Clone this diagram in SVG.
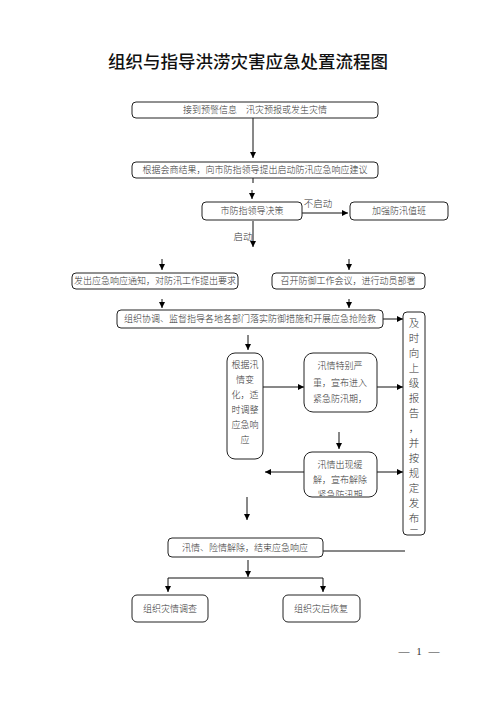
<svg xmlns="http://www.w3.org/2000/svg" width="496" height="702" viewBox="0 0 496 702">
<defs>
<marker id="ah" viewBox="0 0 8 8" refX="8" refY="4" markerWidth="6" markerHeight="6" orient="auto" markerUnits="userSpaceOnUse">
<path d="M0,0 L8,4 L0,8 z" fill="#000"/>
</marker>
<clipPath id="c9"><rect x="304" y="453" width="73" height="43" rx="8"/></clipPath>
<clipPath id="ct"><rect x="404" y="313" width="20" height="221" rx="4"/></clipPath>
</defs>
<style>
.b{fill:#fff;stroke:#222;stroke-width:1}
.t{font-family:"Noto Sans CJK SC","Noto Sans",sans-serif;font-size:9px;font-weight:300;fill:#333;text-anchor:middle}
.v{font-family:"Noto Sans CJK SC","Noto Sans",sans-serif;font-size:10.5px;font-weight:300;fill:#333;text-anchor:middle}
.l{stroke:#111;stroke-width:1;fill:none}
.a{stroke:#111;stroke-width:1;fill:none;marker-end:url(#ah)}
.p{font-family:"Liberation Serif",serif;font-size:11px;fill:#333;text-anchor:middle}
</style>
<rect width="496" height="702" fill="#fff"/>
<text x="248" y="68" style="font-family:'Noto Sans CJK SC',sans-serif;font-size:17.5px;font-weight:500;fill:#111;text-anchor:middle">组织与指导洪涝灾害应急处置流程图</text>

<g id="connectors">
<path class="a" d="M253,118 V158"/>
<path class="l" d="M253,178 V183"/>
<path class="a" d="M252,190 V199"/>
<path class="a" d="M302,213 H348"/>
<path class="a" d="M253,221 V247"/>
<path class="a" d="M162,259 V270"/>
<path class="a" d="M349,259 V270"/>
<path class="a" d="M162,299 V308"/>
<path class="a" d="M349,299 V308"/>
<path class="a" d="M383,319 H403"/>
<path class="a" d="M248,335 V350"/>
<path class="a" d="M263,387 H304"/>
<path class="a" d="M377,387 H403"/>
<path class="a" d="M339,432 V449"/>
<path class="a" d="M304,472 H265"/>
<path class="a" d="M377,472 H403"/>
<path class="a" d="M247,497 V520"/>
<path class="l" d="M323,551 H405"/>
<path class="a" d="M248,560 V577"/>
<path class="l" d="M168,578 H323"/>
<path class="a" d="M168,578 V592"/>
<path class="a" d="M323,578 V592"/>
</g>

<g id="n1"><rect class="b" x="132" y="102" width="246" height="16" rx="4"/><text class="t" x="255" y="113">接到预警信息　汛灾预报或发生灾情</text></g>
<g id="n2"><rect class="b" x="132" y="162" width="246" height="16" rx="4"/><text class="t" x="255" y="173">根据会商结果，向市防指领导提出启动防汛应急响应建议</text></g>
<g id="n3"><rect class="b" x="202" y="202" width="100" height="18" rx="4"/><text class="t" x="252" y="214">市防指领导决策</text></g>
<text class="t" x="318" y="207" style="font-size:9.5px">不启动</text>
<text class="t" x="243" y="240" style="font-size:9.5px">启动</text>
<g id="n4"><rect class="b" x="350" y="202" width="98" height="18" rx="4"/><text class="t" x="399" y="214">加强防汛值班</text></g>
<g id="n5"><rect class="b" x="72" y="273" width="166" height="16" rx="4"/><text class="t" x="155" y="284">发出应急响应通知，对防汛工作提出要求</text></g>
<g id="n6"><rect class="b" x="272" y="273" width="153" height="16" rx="4"/><text class="t" x="348" y="284">召开防御工作会议，进行动员部署</text></g>
<g id="n7"><rect class="b" x="117" y="310" width="266" height="18" rx="4"/><text class="t" x="250" y="322">组织协调、监督指导各地各部门落实防御措施和开展应急抢险救</text></g>
<g id="n8"><rect class="b" x="403" y="312" width="22" height="223" rx="4"/>
<g clip-path="url(#ct)">
<text class="v" x="414" y="327">及</text><text class="v" x="414" y="342">时</text><text class="v" x="414" y="357">向</text><text class="v" x="414" y="372">上</text><text class="v" x="414" y="387">级</text><text class="v" x="414" y="402">报</text><text class="v" x="414" y="417">告</text><text class="v" x="414" y="432">，</text><text class="v" x="414" y="447">并</text><text class="v" x="414" y="462">按</text><text class="v" x="414" y="477">规</text><text class="v" x="414" y="492">定</text><text class="v" x="414" y="507">发</text><text class="v" x="414" y="522">布</text><text class="v" x="414" y="537">二</text>
</g></g>
<g id="n9"><rect class="b" x="227" y="353" width="36" height="106" rx="8"/>
<text class="t" x="245" y="368">根据汛</text><text class="t" x="245" y="383">情变</text><text class="t" x="245" y="398">化，适</text><text class="t" x="245" y="413">时调整</text><text class="t" x="245" y="428">应急响</text><text class="t" x="245" y="443">应</text></g>
<g id="n10"><rect class="b" x="304" y="353" width="73" height="59" rx="9"/>
<text class="t" x="340" y="369">汛情特别严</text><text class="t" x="340" y="386">重，宣布进入</text><text class="t" x="340" y="402">紧急防汛期，</text></g>
<g id="n11"><rect class="b" x="304" y="452" width="73" height="45" rx="8"/>
<g clip-path="url(#c9)"><text class="t" x="340" y="468">汛情出现缓</text><text class="t" x="340" y="483">解，宣布解除</text><text class="t" x="340" y="498">紧急防汛期</text></g></g>
<g id="n12"><rect class="b" x="168" y="538" width="155" height="19" rx="4"/><text class="t" x="245" y="551">汛情、险情解除，结束应急响应</text></g>
<g id="n13"><rect class="b" x="132" y="595" width="76" height="27" rx="5"/><text class="t" x="170" y="612">组织灾情调查</text></g>
<g id="n14"><rect class="b" x="283" y="595" width="77" height="27" rx="5"/><text class="t" x="321" y="612">组织灾后恢复</text></g>
<text class="p" x="404" y="655">—</text><text class="p" x="419" y="655">1</text><text class="p" x="434" y="655">—</text>
</svg>
